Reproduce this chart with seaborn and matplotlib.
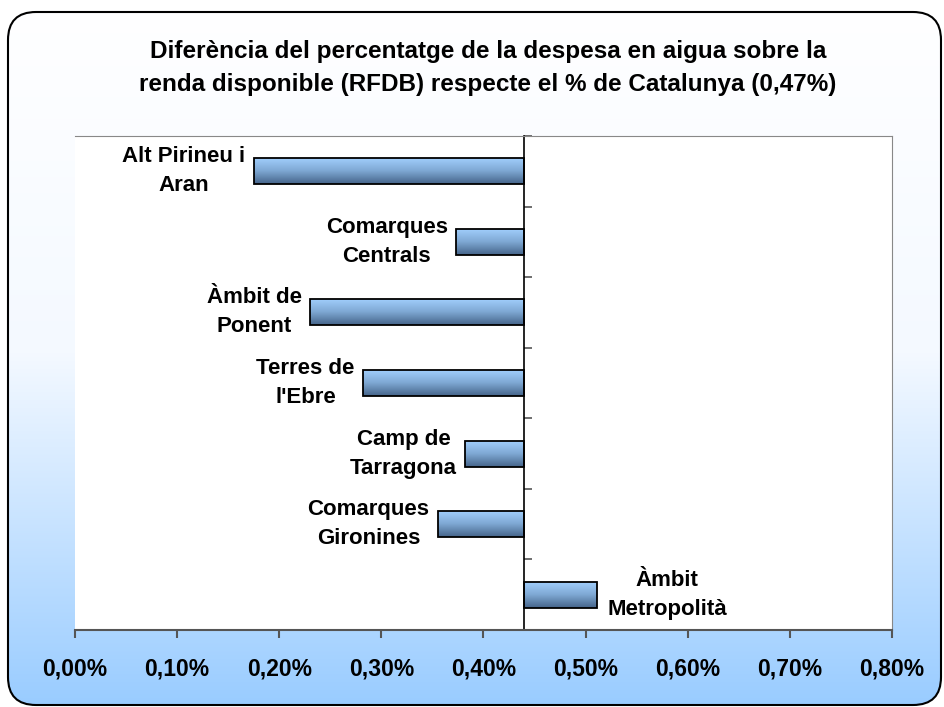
import numpy as np
import pandas as pd
import seaborn as sns
import matplotlib.pyplot as plt
from matplotlib.patches import FancyBboxPatch
from matplotlib.colors import LinearSegmentedColormap
from matplotlib.ticker import FuncFormatter

# dades (percentatge de la despesa en aigua sobre la RFDB)
categories = ["Alt Pirineu i Aran", "Comarques Centrals", "Àmbit de Ponent",
              "Terres de l'Ebre", "Camp de Tarragona", "Comarques Gironines",
              "Àmbit Metropolità"]
labels = ["Alt Pirineu i\nAran", "Comarques\nCentrals", "Àmbit de\nPonent",
          "Terres de\nl'Ebre", "Camp de\nTarragona", "Comarques\nGironines",
          "Àmbit\nMetropolità"]
values = [0.175, 0.373, 0.230, 0.282, 0.382, 0.355, 0.511]
baseline = 0.44
xticks = [0.0, 0.1, 0.2, 0.3, 0.4, 0.5, 0.6, 0.7, 0.8]

df = pd.DataFrame({"Zona": categories, "Valor": values})
df["Dif"] = df["Valor"] - baseline

sns.set_style("white")
plt.rcParams["font.family"] = ["Liberation Sans", "DejaVu Sans"]
plt.rcParams["text.color"] = "black"
plt.rcParams["xtick.color"] = "black"
plt.rcParams["ytick.color"] = "black"

fig = plt.figure(figsize=(9.44, 7.07), dpi=100)

# fons amb degradat i vora arrodonida
bg = fig.add_axes([0, 0, 1, 1], zorder=-10)
bg.set_xlim(0, 944)
bg.set_ylim(0, 707)
bg.axis("off")
box = FancyBboxPatch((8 + 28, 2 + 28), 933 - 56, 693 - 56,
                     boxstyle="round,pad=28", facecolor="none",
                     edgecolor="black", linewidth=1.5)
bg.add_patch(box)
bg_cmap = LinearSegmentedColormap.from_list("bg", ["#ffffff", "#f4f9ff", "#99ccff"])
grad = np.linspace(0, 1, 256).reshape(-1, 1)
im = bg.imshow(grad, extent=(0, 944, 0, 707), origin="upper",
               cmap=bg_cmap, aspect="auto", zorder=0)
im.set_clip_path(box)

ax = fig.add_axes([75 / 944, 1 - 630 / 707, (892 - 75) / 944, (630 - 136) / 707])
ax.set_facecolor("white")
sns.barplot(data=df, x="Dif", y="Zona", orient="h", ax=ax, width=0.37,
            color="#99ccff", edgecolor="black", linewidth=1.3)

# degradat dins de les barres
bar_cmap = LinearSegmentedColormap.from_list("bar", ["#a3d1ff", "#7fa9d4", "#45648a"])
for p in list(ax.patches):
    x0, y0, w, h = p.get_x(), p.get_y(), p.get_width(), p.get_height()
    p.set_facecolor("none")
    p.set_zorder(3)
    g = ax.imshow(grad, extent=(x0, x0 + w, y0 + h, y0), origin="upper",
                  cmap=bar_cmap, aspect="auto", zorder=2)
    g.set_clip_path(p)

ax.set_xlim(xticks[0] - baseline, xticks[-1] - baseline)
ax.set_ylim(len(categories) - 0.5, -0.5)
ax.set_xticks([t - baseline for t in xticks])
ax.xaxis.set_major_formatter(FuncFormatter(
    lambda v, pos: f"{v + baseline:.2f}%".replace(".", ",")))
ax.set_yticks(np.arange(len(categories)) - 0.5)
ax.set_yticklabels([])
ax.set_xlabel("")
ax.set_ylabel("")

ax.spines["left"].set_position(("data", 0))
ax.spines["left"].set_linewidth(1.2)
ax.spines["left"].set_color("black")
ax.spines["bottom"].set_color("#555555")
ax.spines["bottom"].set_linewidth(1.5)
for s in ["top", "right"]:
    ax.spines[s].set_visible(True)
    ax.spines[s].set_color("#888888")
ax.tick_params(axis="y", left=True, direction="in", length=6, color="#555555", width=1.2)
ax.tick_params(axis="x", bottom=True, direction="out", length=6, color="#555555", width=1.5,
               labelsize=16.5, pad=14)
for t in ax.get_xticklabels():
    t.set_fontweight("bold")

# etiquetes al costat de cada barra
for i, (lab, d) in enumerate(zip(labels, df["Dif"])):
    if d < 0:
        ax.text(d - 0.008, i, lab, ha="right", va="center", multialignment="center",
                fontsize=16, fontweight="bold", linespacing=1.5, zorder=4)
    else:
        ax.text(d + 0.01, i, lab, ha="left", va="center", multialignment="center",
                fontsize=16, fontweight="bold", linespacing=1.5, zorder=4)

fig.text(488 / 944, 1 - 68 / 707,
         "Diferència del percentatge de la despesa en aigua sobre la\n"
         "renda disponible (RFDB) respecte el % de Catalunya (0,47%)",
         ha="center", va="center", fontsize=17.5, fontweight="bold", linespacing=1.6)

fig.savefig("out.png", dpi=100)
